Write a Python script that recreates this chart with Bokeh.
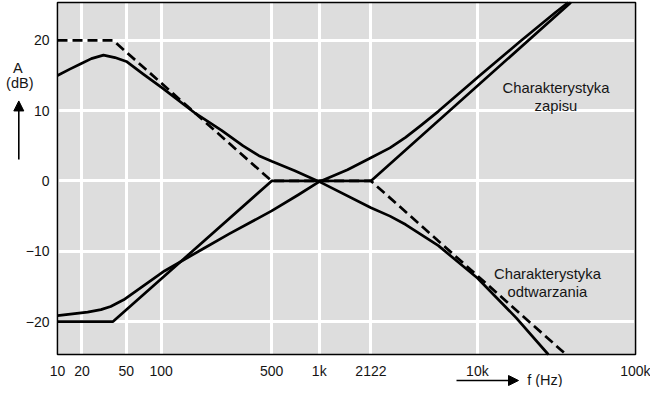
import numpy as np
from bokeh.plotting import figure
from bokeh.models import Range1d, FixedTicker, Label, Arrow, NormalHead
from bokeh.embed import file_html
from bokeh.resources import INLINE

# ---------------- data ----------------
TICK_F = [10, 20, 50, 100, 500, 1000, 2122, 10000, 100000]
TICK_LABELS = ["10", "20", "50", "100", "500", "1k", "2122", "10k", "100k"]
Y_TICKS = [-20, -10, 0, 10, 20]
Y_TICK_LABELS = ["\u221220", "\u221210", "0", "10", "20"]
Y_MIN, Y_MAX = -24.68, 25.38          # vertical extent of the chart (dB)
F_MIN, F_MAX = 10, 100000             # horizontal extent of the chart (Hz)

# the chart's frequency axis is logarithmic, but compressed below 100 Hz
LOW_KNOT_F = [10, 20, 50, 100]
LOW_KNOT_DECADES = [1.3445, 1.499, 1.780, 2.0]

# playback characteristic (solid)
PLAY_F = [10, 14.2, 19.7, 24.3, 31.2, 39.5, 50, 70, 102, 165, 241, 330, 415,
          500, 700, 1000, 2122, 2800, 3516, 5662, 10000, 17660, 28100]
PLAY_DB = [15.0, 15.9, 16.7, 17.4, 17.9, 17.55, 17.0, 15.2, 13.2, 9.6, 7.2, 5.0, 3.6,
           2.8, 1.45, -0.1, -3.8, -5.0, -6.2, -9.2, -13.8, -19.5, -24.68]

# recording characteristic (solid)
REC_F = [10, 22.5, 29.6, 36.2, 47.3, 105, 185.5, 271, 500, 734, 1000, 1510, 2122,
         2800, 3516, 4400, 5662, 10230, 18530, 31260, 37500]
REC_DB = [-19.15, -18.65, -18.3, -17.85, -16.9, -12.8, -9.6, -7.5, -4.25, -2.0, -0.1, 1.6, 3.3,
          4.7, 6.2, 7.9, 9.9, 14.9, 19.8, 24.0, 25.38]

# straight-line asymptotes
PLAY_ASYM_F = [10, 38, 500, 2122, 36360]
PLAY_ASYM_DB = [20, 20, 0, 0, -24.68]
REC_ASYM_F = [10, 38, 500, 2122, 39000]
REC_ASYM_DB = [-20, -20, 0, 0, 25.38]


def axis_pos(f):
    lf = np.log10(np.asarray(f, dtype=float))
    low = np.interp(lf, np.log10(LOW_KNOT_F), LOW_KNOT_DECADES)
    return np.where(lf >= 2, lf, low)


# ---------------- layout (pixels) ----------------
W, H = 650, 387
ML, MR, MT, MB = 57, 15, 2, 33        # space around the grey chart area
FONT = "Liberation Sans"
INK = "#151515"

u0, u1 = float(axis_pos(F_MIN)), float(axis_pos(F_MAX))
ppu = (W - ML - MR) / (u1 - u0)
ppd = (H - MT - MB) / (Y_MAX - Y_MIN)
x_lo = u0 - ML / ppu
y_hi = Y_MAX + MT / ppd


def px_x(px):   # figure pixel -> axis position
    return x_lo + px / ppu


def px_y(py):   # figure pixel -> dB
    return y_hi - py / ppd


p = figure(width=W, height=H, output_backend="svg", toolbar_location=None,
           x_range=Range1d(x_lo, x_lo + W / ppu), y_range=Range1d(y_hi - H / ppd, y_hi),
           min_border=0, min_border_left=0, min_border_right=0, min_border_top=0,
           min_border_bottom=0, background_fill_color="white", border_fill_color="white",
           outline_line_color=None)

xt = [round(float(v), 6) for v in axis_pos(TICK_F)]
xtick = FixedTicker(ticks=xt)
ytick = FixedTicker(ticks=Y_TICKS)
p.xaxis.ticker = xtick
p.xgrid.ticker = xtick
p.yaxis.ticker = ytick
p.ygrid.ticker = ytick
p.xaxis.major_label_overrides = dict(zip(xt, TICK_LABELS))
p.yaxis.major_label_overrides = dict(zip(Y_TICKS, Y_TICK_LABELS))
p.xaxis.fixed_location = Y_MIN
p.yaxis.fixed_location = u0

for ax in (p.xaxis[0], p.yaxis[0]):
    ax.axis_line_color = None
    ax.major_tick_line_color = None
    ax.minor_tick_line_color = None
    ax.major_tick_out = 0
    ax.major_tick_in = 0
    ax.major_label_standoff = 8
    ax.major_label_text_font = FONT
    ax.major_label_text_font_size = "14px"
    ax.major_label_text_color = INK

for g in (p.xgrid[0], p.ygrid[0]):
    g.grid_line_color = "white"
    g.grid_line_width = 3

# grey chart background (below the grid) and black frame (above it)
p.quad(left=[u0], right=[u1], bottom=[Y_MIN], top=[Y_MAX], fill_color="#dddddd",
       line_color=None, level="image")
p.quad(left=[u0], right=[u1], bottom=[Y_MIN], top=[Y_MAX], fill_color=None,
       line_color="black", line_width=1.6)

lw = 2.7
p.line(axis_pos(REC_ASYM_F), REC_ASYM_DB, line_color="black", line_width=lw, line_join="round")
p.line(axis_pos(PLAY_ASYM_F), PLAY_ASYM_DB, line_color="black", line_width=lw,
       line_dash="10 5", line_join="round")
p.line(axis_pos(PLAY_F), PLAY_DB, line_color="black", line_width=lw, line_join="round")
p.line(axis_pos(REC_F), REC_DB, line_color="black", line_width=lw, line_join="round")


def lab(x, y, text, size="14.8px", align="center", baseline="alphabetic"):
    p.add_layout(Label(x=x, y=y, text=text, text_align=align, text_baseline=baseline,
                       text_font=FONT, text_font_size=size, text_color=INK))


lab(4.497, 13.26, "Charakterystyka")
lab(4.497, 10.67, "zapisu")
lab(4.443, -13.23, "Charakterystyka")
lab(4.443, -15.82, "odtwarzania")

lab(px_x(17.3), 16.0, "A", size="14.5px")
lab(px_x(19.3), 13.92, "(dB)", size="14.5px")
p.add_layout(Arrow(end=NormalHead(size=10, fill_color="black", line_color="black", line_width=1),
                   x_start=px_x(18.3), y_start=3.04, x_end=px_x(18.3), y_end=11.38,
                   line_color="black", line_width=1.6))

lab(px_x(526.7), px_y(379), "f (Hz)", size="14.5px", align="left", baseline="middle")
p.add_layout(Arrow(end=NormalHead(size=10, fill_color="black", line_color="black", line_width=1),
                   x_start=px_x(456), y_start=px_y(380), x_end=px_x(518), y_end=px_y(380),
                   line_color="black", line_width=1.6))

open("out.html", "w").write(file_html(p, INLINE))
